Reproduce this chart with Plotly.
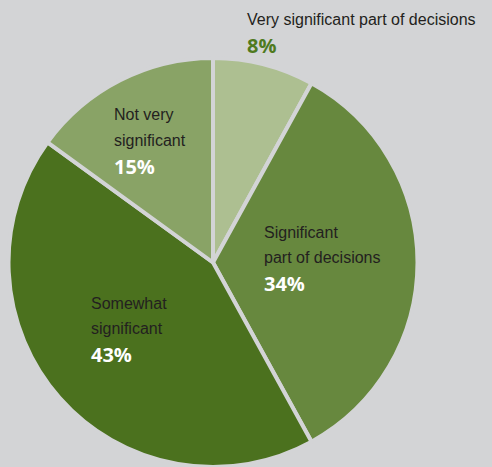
import plotly.graph_objects as go

categories = ["Very significant part of decisions", "Significant part of decisions",
              "Somewhat significant", "Not very significant"]
display_labels = ["Very significant part of decisions", "Significant<br>part of decisions",
                  "Somewhat<br>significant", "Not very<br>significant"]
values = [8, 34, 43, 15]

colors = ["#adbf91", "#67883e", "#4b711e", "#89a366"]
bg = "#d3d4d6"
W, H = 492, 467

fig = go.Figure(go.Pie(
    labels=categories, values=values, sort=False, direction="clockwise", rotation=0,
    marker=dict(colors=colors, line=dict(color=bg, width=4)),
    textinfo="none", hoverinfo="label+percent", showlegend=False,
    domain=dict(x=[8 / W, 418 / W], y=[0, 1 - 58 / H]),
))

# label anchor positions (left x, y of first line) in pixels
label_pos = [(247, 20), (264, 232), (91, 303), (114, 115)]
pct_color = ["#4f7a1e", "white", "white", "white"]
line_h = 25.5
ann = []
for lab, v, (px, py), pc in zip(display_labels, values, label_pos, pct_color):
    nlines = lab.count("<br>") + 1
    for i, line in enumerate(lab.split("<br>")):
        ann.append(dict(x=px / W, y=1 - (py + i * line_h) / H, xref="paper", yref="paper",
                        text=line, showarrow=False, xanchor="left", yanchor="middle",
                        xshift=-2,
                        font=dict(family="Liberation Sans, Arial, sans-serif",
                                  size=16, color="#231f20")))
    ann.append(dict(x=px / W, y=1 - (py + nlines * line_h) / H, xref="paper", yref="paper",
                    text="<b>%d%%</b>" % v, showarrow=False, xanchor="left", yanchor="middle",
                    xshift=-2,
                    font=dict(family="Open Sans, sans-serif", size=20, color=pc)))

fig.update_layout(width=W, height=H, margin=dict(l=0, r=0, t=0, b=0),
                  paper_bgcolor=bg, plot_bgcolor=bg, annotations=ann)
fig.write_html("out.html", config={"displayModeBar": False},
               post_script="document.body.style.margin='0';")
